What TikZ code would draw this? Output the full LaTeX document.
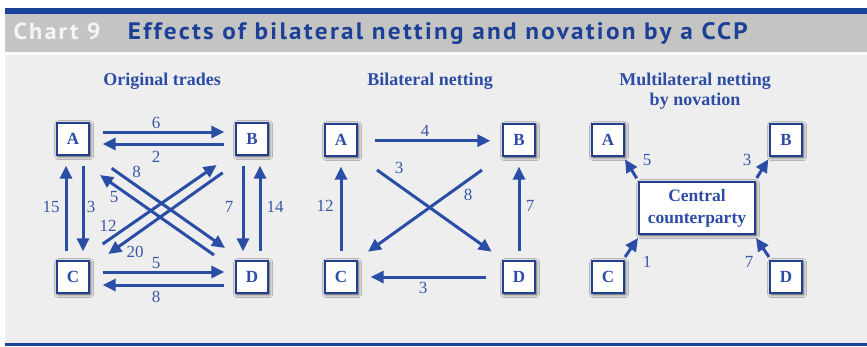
\documentclass[tikz,border=0pt]{standalone}
\usepackage{fontspec}
\setmainfont{Liberation Serif}
\newfontfamily\titlefont[LetterSpace=9]{PT Sans}
\usetikzlibrary{arrows.meta,shadows.blur,calc}
\definecolor{barblue}{HTML}{1A4399}
\definecolor{titlegray}{HTML}{C4C5C3}
\definecolor{panelgray}{HTML}{EEEEEE}
\definecolor{arrblue}{HTML}{2A4DA6}
\definecolor{boxblue}{HTML}{233F8F}
\definecolor{lblblue}{HTML}{3A57A8}
\definecolor{txtblue}{HTML}{2D4CA5}
\definecolor{headblue}{HTML}{1C4097}
\tikzset{
  party/.style={draw=boxblue, line width=1.3pt, fill=white, minimum width=32pt, minimum height=32pt,
    inner sep=0pt, font=\fontsize{17}{17}\selectfont\bfseries, text=txtblue,
    blur shadow={shadow xshift=1.2pt, shadow yshift=-1.2pt, shadow blur radius=3.5pt, shadow opacity=75}},
  ccpbox/.style={party, minimum width=116pt, minimum height=52pt, align=center,
    font=\fontsize{17.5}{22}\selectfont\bfseries},
  flow/.style={draw=arrblue, line width=3pt, -{Triangle[length=13pt,width=12pt]}},
  lbl/.style={text=lblblue, font=\fontsize{17}{17}\selectfont, inner sep=0pt},
  ttl/.style={text=txtblue, font=\fontsize{18}{21}\selectfont\bfseries, inner sep=0pt, anchor=base},
  head/.style={inner sep=0pt, anchor=base west, font=\titlefont\bfseries\fontsize{24}{24}\selectfont}
}
\begin{document}
\begin{tikzpicture}[x=1pt,y=-1pt]
\useasboundingbox (0,0) rectangle (867,346);
\fill[white] (0,0) rectangle (867,346);
\fill[barblue] (5,8) rectangle (867,14);
\fill[titlegray] (5,14) rectangle (867,51.5);
\fill[panelgray] (5,54.5) rectangle (867,343);
\fill[barblue] (5,342.7) rectangle (867,346);
\node[head, text=white!96!black] (hA) at (13.3,39.3) {\resizebox{87pt}{16.5pt}{Chart 9}};
\node[head, text=headblue] (hB) at (127.7,39.3) {\resizebox{620pt}{17pt}{Effects of bilateral netting and novation by a CCP}};

% ---------- Panel 1 ----------
\node[ttl] (t1) at (162,85) {Original trades};
\node[party] (A1) at (73,139) {A};
\node[party] (B1) at (252,139) {B};
\node[party] (C1) at (73,277) {C};
\node[party] (D1) at (252,277) {D};
\draw[flow, shorten <=13pt, shorten >=11pt] ([yshift=7pt]A1.east) -- ([yshift=7pt]B1.west);
\draw[flow, shorten <=11pt, shorten >=13pt] ([yshift=-5pt]B1.west) -- ([yshift=-5pt]A1.east);
\draw[flow, shorten <=10pt, shorten >=9pt] ([xshift=10pt]A1.south) -- ([xshift=10pt]C1.north);
\draw[flow, shorten <=9pt, shorten >=10pt] ([xshift=-7pt]C1.north) -- ([xshift=-7pt]A1.south);
\draw[flow, shorten <=10pt, shorten >=9pt] ([xshift=-9pt]B1.south) -- ([xshift=-9pt]D1.north);
\draw[flow, shorten <=9pt, shorten >=10pt] ([xshift=8pt]D1.north) -- ([xshift=8pt]B1.south);
\draw[flow, shorten <=13pt, shorten >=11pt] ([yshift=5pt]C1.east) -- ([yshift=5pt]D1.west);
\draw[flow, shorten <=11pt, shorten >=13pt] ([yshift=-8pt]D1.west) -- ([yshift=-8pt]C1.east);
\draw[flow] ($(A1)+(38.7,29.3)$) -- ($(D1)+(-27,-29)$);
\draw[flow] ($(D1)+(-38,-22)$) -- ($(A1)+(27,36)$);
\draw[flow] ($(C1)+(29.7,-33)$) -- ($(B1)+(-35.3,26)$);
\draw[flow] ($(B1)+(-29.3,33.7)$) -- ($(C1)+(35.3,-23)$);
\node[lbl] (l1a) at (156,123) {6};
\node[lbl] (l1b) at (156,157) {2};
\node[lbl] (l1c) at (51,207) {15};
\node[lbl] (l1d) at (91,207) {3};
\node[lbl] (l1e) at (229,207) {7};
\node[lbl] (l1f) at (275,207) {14};
\node[lbl] (l1g) at (156,263) {5};
\node[lbl] (l1h) at (156,297) {8};
\node[lbl] (l1i) at (136.7,171.7) {8};
\node[lbl] (l1j) at (114,196.7) {5};
\node[lbl] (l1k) at (108,226) {12};
\node[lbl] (l1l) at (135,251.7) {20};

% ---------- Panel 2 ----------
\node[ttl] (t2) at (430,85) {Bilateral netting};
\node[party] (A2) at (341,140) {A};
\node[party] (B2) at (519,140) {B};
\node[party] (C2) at (341,277) {C};
\node[party] (D2) at (519,277) {D};
\draw[flow, shorten <=17pt, shorten >=12pt] ([yshift=-0.7pt]A2.east) -- ([yshift=-0.7pt]B2.west);
\draw[flow, shorten <=9pt, shorten >=10pt] (C2.north) -- (A2.south);
\draw[flow, shorten <=9pt, shorten >=10pt] (D2.north) -- (B2.south);
\draw[flow, shorten <=16pt, shorten >=13pt] (D2.west) -- (C2.east);
\draw[flow] ($(A2)+(36,30)$) -- ($(D2)+(-27.3,-25.3)$);
\draw[flow] ($(B2)+(-37,30)$) -- ($(C2)+(27,-25.3)$);
\node[lbl] (l2a) at (425,131) {4};
\node[lbl] (l2b) at (325,206) {12};
\node[lbl] (l2c) at (530,206) {7};
\node[lbl] (l2d) at (423,288) {3};
\node[lbl] (l2e) at (399,168) {3};
\node[lbl] (l2f) at (468,195) {8};

% ---------- Panel 3 ----------
\node[ttl] (t3a) at (695,85) {Multilateral netting};
\node[ttl] (t3b) at (695,105.5) {by novation};
\node[party] (A3) at (608,140) {A};
\node[party] (B3) at (786,140) {B};
\node[party] (C3) at (608,277) {C};
\node[party] (D3) at (786,277) {D};
\node[ccpbox] (P) at (697,208) {Central\\counterparty};
\draw[flow] ($(P)+(-60.3,-29.7)$) -- ($(A3)+(17,19.3)$);
\draw[flow] ($(P)+(59.7,-30)$) -- ($(B3)+(-17.7,19.3)$);
\draw[flow] ($(C3)+(17,-20)$) -- ($(P)+(-59,30)$);
\draw[flow] ($(D3)+(-17,-20)$) -- ($(P)+(59,30)$);
\node[lbl] (l3a) at (647,160) {5};
\node[lbl] (l3b) at (747,160) {3};
\node[lbl] (l3c) at (647,262) {1};
\node[lbl] (l3d) at (749,262) {7};
\end{tikzpicture}
\end{document}
